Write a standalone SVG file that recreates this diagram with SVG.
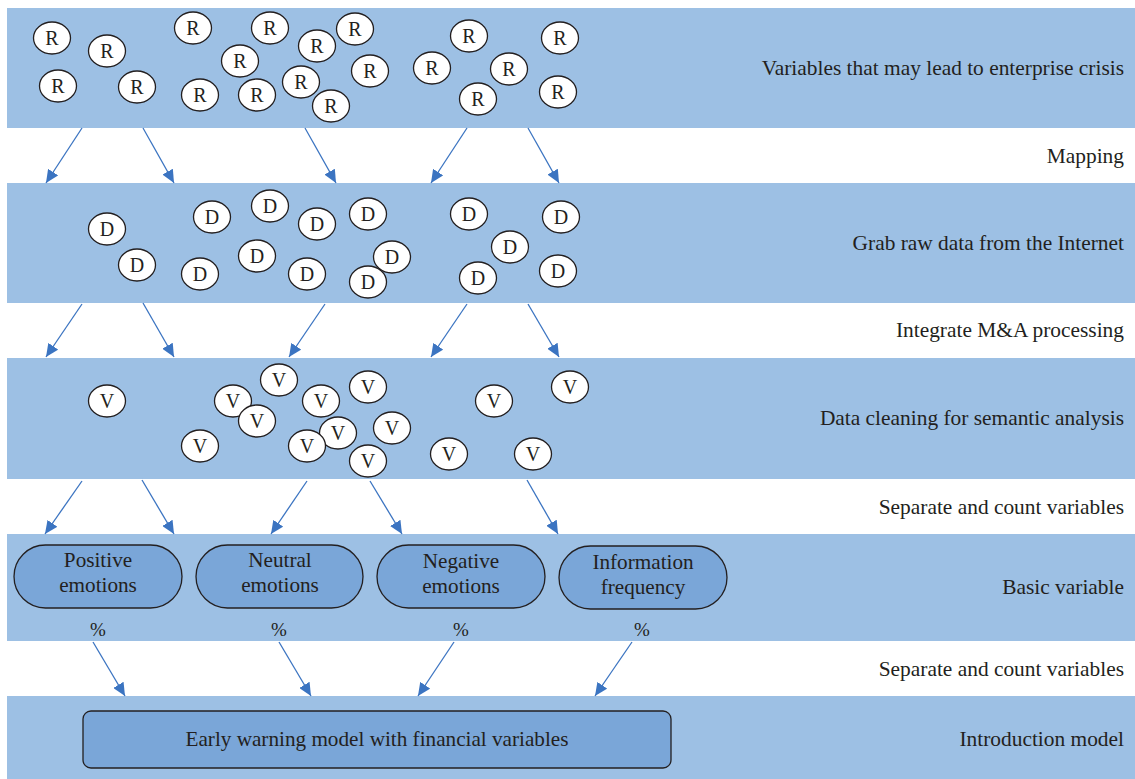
<svg xmlns="http://www.w3.org/2000/svg" width="1135" height="779" viewBox="0 0 1135 779">
<style>
.band{fill:#9dc0e4}
.lbl{font-family:"Liberation Serif",serif;font-size:21.4px;fill:#231f20;text-anchor:end}
.c ellipse{fill:#fff;stroke:#231f20;stroke-width:1.3}
.c text{font-family:"Liberation Serif",serif;font-size:20px;fill:#231f20;text-anchor:middle}
.pill rect{fill:#7aa6d8;stroke:#231f20;stroke-width:1.3}
.pt{font-family:"Liberation Serif",serif;font-size:21.2px;fill:#231f20;text-anchor:middle}
.pc{font-family:"Liberation Serif",serif;font-size:19px;fill:#231f20;text-anchor:middle}
.conn line{stroke:#3b74c1;stroke-width:1.3;marker-end:url(#ah)}
</style>
<defs>
<marker id="ah" markerUnits="userSpaceOnUse" markerWidth="14" markerHeight="12" viewBox="0 0 14 12" refX="13" refY="6" orient="auto">
<path d="M0,0 L13,6 L0,12 Z" fill="#3b74c1"/>
</marker>
</defs>
<rect width="1135" height="779" fill="#fff"/>
<g id="bands">
<rect class="band" x="7" y="8" width="1128" height="120"/>
<rect class="band" x="7" y="183" width="1128" height="120"/>
<rect class="band" x="7" y="358" width="1128" height="121"/>
<rect class="band" x="7" y="534" width="1128" height="107"/>
<rect class="band" x="7" y="696" width="1128" height="83"/>
</g>
<g id="labels">
<text class="lbl" x="1124" y="75">Variables that may lead to enterprise crisis</text>
<text class="lbl" x="1124" y="163">Mapping</text>
<text class="lbl" x="1124" y="250">Grab raw data from the Internet</text>
<text class="lbl" x="1124" y="337">Integrate M&amp;A processing</text>
<text class="lbl" x="1124" y="425">Data cleaning for semantic analysis</text>
<text class="lbl" x="1124" y="514">Separate and count variables</text>
<text class="lbl" x="1124" y="594">Basic variable</text>
<text class="lbl" x="1124" y="676">Separate and count variables</text>
<text class="lbl" x="1124" y="746">Introduction model</text>
</g>
<g id="r-nodes" class="c">
<g transform="translate(52,38)"><ellipse rx="18.5" ry="16"/><text y="7">R</text></g>
<g transform="translate(107,51)"><ellipse rx="18.5" ry="16"/><text y="7">R</text></g>
<g transform="translate(58,86)"><ellipse rx="18.5" ry="16"/><text y="7">R</text></g>
<g transform="translate(137,87)"><ellipse rx="18.5" ry="16"/><text y="7">R</text></g>
<g transform="translate(193,28)"><ellipse rx="18.5" ry="16"/><text y="7">R</text></g>
<g transform="translate(270,28)"><ellipse rx="18.5" ry="16"/><text y="7">R</text></g>
<g transform="translate(240,61)"><ellipse rx="18.5" ry="16"/><text y="7">R</text></g>
<g transform="translate(317,46)"><ellipse rx="18.5" ry="16"/><text y="7">R</text></g>
<g transform="translate(355,29)"><ellipse rx="18.5" ry="16"/><text y="7">R</text></g>
<g transform="translate(370,71)"><ellipse rx="18.5" ry="16"/><text y="7">R</text></g>
<g transform="translate(200,95)"><ellipse rx="18.5" ry="16"/><text y="7">R</text></g>
<g transform="translate(257,95)"><ellipse rx="18.5" ry="16"/><text y="7">R</text></g>
<g transform="translate(301,82)"><ellipse rx="18.5" ry="16"/><text y="7">R</text></g>
<g transform="translate(331,106)"><ellipse rx="18.5" ry="16"/><text y="7">R</text></g>
<g transform="translate(469,36)"><ellipse rx="18.5" ry="16"/><text y="7">R</text></g>
<g transform="translate(432,68)"><ellipse rx="18.5" ry="16"/><text y="7">R</text></g>
<g transform="translate(509,69)"><ellipse rx="18.5" ry="16"/><text y="7">R</text></g>
<g transform="translate(478,99)"><ellipse rx="18.5" ry="16"/><text y="7">R</text></g>
<g transform="translate(560,38)"><ellipse rx="18.5" ry="16"/><text y="7">R</text></g>
<g transform="translate(558,92)"><ellipse rx="18.5" ry="16"/><text y="7">R</text></g>
</g>
<g id="d-nodes" class="c">
<g transform="translate(107,229)"><ellipse rx="18.5" ry="16"/><text y="7">D</text></g>
<g transform="translate(137,265)"><ellipse rx="18.5" ry="16"/><text y="7">D</text></g>
<g transform="translate(212,217)"><ellipse rx="18.5" ry="16"/><text y="7">D</text></g>
<g transform="translate(270,206)"><ellipse rx="18.5" ry="16"/><text y="7">D</text></g>
<g transform="translate(317,224)"><ellipse rx="18.5" ry="16"/><text y="7">D</text></g>
<g transform="translate(368,214)"><ellipse rx="18.5" ry="16"/><text y="7">D</text></g>
<g transform="translate(257,256)"><ellipse rx="18.5" ry="16"/><text y="7">D</text></g>
<g transform="translate(200,274)"><ellipse rx="18.5" ry="16"/><text y="7">D</text></g>
<g transform="translate(307,274)"><ellipse rx="18.5" ry="16"/><text y="7">D</text></g>
<g transform="translate(392,257)"><ellipse rx="18.5" ry="16"/><text y="7">D</text></g>
<g transform="translate(368,282)"><ellipse rx="18.5" ry="16"/><text y="7">D</text></g>
<g transform="translate(469,214)"><ellipse rx="18.5" ry="16"/><text y="7">D</text></g>
<g transform="translate(510,247)"><ellipse rx="18.5" ry="16"/><text y="7">D</text></g>
<g transform="translate(478,278)"><ellipse rx="18.5" ry="16"/><text y="7">D</text></g>
<g transform="translate(561,217)"><ellipse rx="18.5" ry="16"/><text y="7">D</text></g>
<g transform="translate(558,271)"><ellipse rx="18.5" ry="16"/><text y="7">D</text></g>
</g>
<g id="v-nodes" class="c">
<g transform="translate(107,401)"><ellipse rx="18.5" ry="16"/><text y="7">V</text></g>
<g transform="translate(279,380)"><ellipse rx="18.5" ry="16"/><text y="7">V</text></g>
<g transform="translate(233,401)"><ellipse rx="18.5" ry="16"/><text y="7">V</text></g>
<g transform="translate(257,421)"><ellipse rx="18.5" ry="16"/><text y="7">V</text></g>
<g transform="translate(200,446)"><ellipse rx="18.5" ry="16"/><text y="7">V</text></g>
<g transform="translate(321,401)"><ellipse rx="18.5" ry="16"/><text y="7">V</text></g>
<g transform="translate(368,387)"><ellipse rx="18.5" ry="16"/><text y="7">V</text></g>
<g transform="translate(338,433)"><ellipse rx="18.5" ry="16"/><text y="7">V</text></g>
<g transform="translate(307,446)"><ellipse rx="18.5" ry="16"/><text y="7">V</text></g>
<g transform="translate(392,428)"><ellipse rx="18.5" ry="16"/><text y="7">V</text></g>
<g transform="translate(368,461)"><ellipse rx="18.5" ry="16"/><text y="7">V</text></g>
<g transform="translate(494,401)"><ellipse rx="18.5" ry="16"/><text y="7">V</text></g>
<g transform="translate(570,387)"><ellipse rx="18.5" ry="16"/><text y="7">V</text></g>
<g transform="translate(449,454)"><ellipse rx="18.5" ry="16"/><text y="7">V</text></g>
<g transform="translate(533,454)"><ellipse rx="18.5" ry="16"/><text y="7">V</text></g>
</g>
<g id="pill-positive" class="pill"><rect x="14" y="545" width="168" height="63" rx="31.5"/><text class="pt" x="98" y="567">Positive</text><text class="pt" x="98" y="592">emotions</text><text class="pc" x="98" y="636">%</text></g>
<g id="pill-neutral" class="pill"><rect x="196" y="545" width="167" height="63" rx="31.5"/><text class="pt" x="280" y="567">Neutral</text><text class="pt" x="280" y="592">emotions</text><text class="pc" x="279" y="636">%</text></g>
<g id="pill-negative" class="pill"><rect x="377" y="545" width="168" height="63" rx="31.5"/><text class="pt" x="461" y="568">Negative</text><text class="pt" x="461" y="593">emotions</text><text class="pc" x="461" y="636">%</text></g>
<g id="pill-info" class="pill"><rect x="559" y="546" width="168" height="63" rx="31.5"/><text class="pt" x="643" y="569">Information</text><text class="pt" x="643" y="594">frequency</text><text class="pc" x="642" y="636">%</text></g>
<g id="model" class="pill"><rect x="83" y="711" width="588" height="57" rx="8"/><text class="pt" x="377" y="746">Early warning model with financial variables</text></g>
<g id="connectors" class="conn">
<line x1="82" y1="128" x2="46" y2="183"/>
<line x1="143" y1="128" x2="174" y2="183"/>
<line x1="305" y1="128" x2="336" y2="183"/>
<line x1="467" y1="128" x2="431" y2="183"/>
<line x1="528" y1="128" x2="559" y2="183"/>
<line x1="82" y1="304" x2="46" y2="357"/>
<line x1="143" y1="303" x2="174" y2="357"/>
<line x1="325" y1="304" x2="289" y2="357"/>
<line x1="467" y1="304" x2="431" y2="357"/>
<line x1="528" y1="304" x2="559" y2="357"/>
<line x1="82" y1="481" x2="45" y2="534"/>
<line x1="142" y1="480" x2="174" y2="534"/>
<line x1="307" y1="481" x2="271" y2="534"/>
<line x1="370" y1="481" x2="402" y2="534"/>
<line x1="527" y1="480" x2="558" y2="534"/>
<line x1="93" y1="642" x2="125" y2="696"/>
<line x1="279" y1="642" x2="311" y2="696"/>
<line x1="454" y1="642" x2="418" y2="696"/>
<line x1="632" y1="642" x2="595" y2="696"/>
</g>
</svg>
